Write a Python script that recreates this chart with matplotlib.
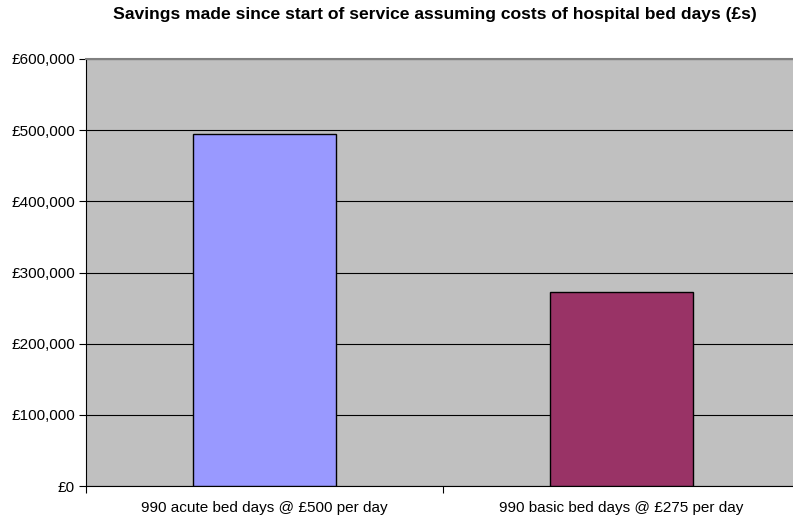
import matplotlib.pyplot as plt
from matplotlib.ticker import FuncFormatter

plt.rcParams['font.family'] = ['Liberation Sans', 'DejaVu Sans']

# data
categories = ['990 acute bed days @ £500 per day', '990 basic bed days @ £275 per day']
savings = [495000, 272250]
bar_colors = ['#9999FF', '#993366']

fig = plt.figure(figsize=(7.93, 5.17), dpi=100)
# plot area runs slightly past the right edge of the image
ax = fig.add_axes([86/793, 1 - 486/517, 714/793, 427/517])
ax.set_facecolor('#C0C0C0')

x = range(len(categories))
ax.bar(x, savings, width=0.4, color=bar_colors, edgecolor='black', linewidth=1, zorder=3)

ax.set_ylim(0, 600000)
ax.set_yticks(range(0, 600001, 100000))
ax.yaxis.set_major_formatter(FuncFormatter(lambda v, p: '£{:,.0f}'.format(v)))
ax.grid(axis='y', color='black', linewidth=0.8, zorder=1)

ax.set_xlim(-0.5, 1.5)
ax.set_xticks([-0.5, 0.5, 1.5])
ax.set_xticklabels([])
ax.set_xticks(list(x), minor=True)
ax.set_xticklabels(categories, minor=True)
ax.tick_params(axis='x', which='minor', length=0, pad=11, labelsize=11)
ax.tick_params(axis='x', which='major', length=5, color='black')
ax.tick_params(axis='y', length=5, labelsize=11, pad=3)

for s in ['top', 'right']:
    ax.spines[s].set_color('#808080')
    ax.spines[s].set_linewidth(1.5)
ax.spines['left'].set_color('black')
ax.spines['bottom'].set_color('black')

fig.text(435/793, 1 - 15/517, 'Savings made since start of service assuming costs of hospital bed days (£s)',
         ha='center', va='center', fontsize=12.6, fontweight='bold')

fig.savefig('out.png', dpi=100)
